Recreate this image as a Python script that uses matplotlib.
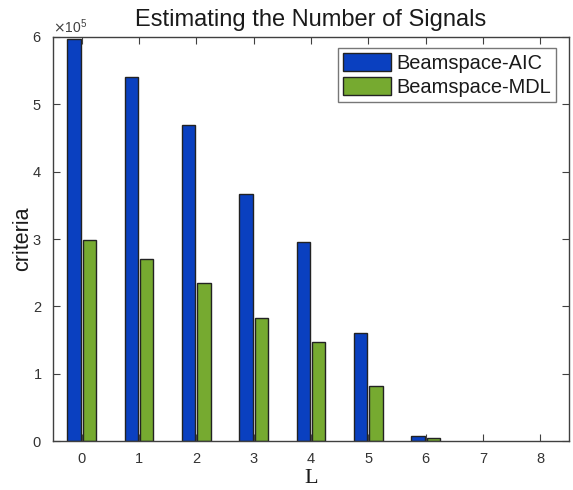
import matplotlib
matplotlib.use("Agg")
import matplotlib.pyplot as plt
import numpy as np
from matplotlib.ticker import ScalarFormatter

# Data
L_values = [0, 1, 2, 3, 4, 5, 6, 7, 8]
aic = [597000, 540000, 469000, 367000, 296000, 160000, 7000, 0, 0]
mdl = [299000, 270000, 234000, 183000, 147000, 81000, 4500, 0, 0]
series_names = ["Beamspace-AIC", "Beamspace-MDL"]
title = "Estimating the Number of Signals"

plt.rcParams['font.family'] = ['Liberation Sans', 'DejaVu Sans']

fig = plt.figure(figsize=(5.73, 4.9), dpi=100)
ax = fig.add_axes([53/573, 1-441/490, 516/573, 404/490])

x = np.array(L_values, dtype=float)
w = 0.23
off = 0.135
blue = '#0a40c0'
green = '#76aa30'
edge = '#222222'
lw_a = [1.0 if v > 0 else 0.0 for v in aic]
lw_m = [1.0 if v > 0 else 0.0 for v in mdl]
ax.bar(x - off, aic, width=w, color=blue, edgecolor=edge, linewidth=lw_a, label=series_names[0])
ax.bar(x + off, mdl, width=w, color=green, edgecolor=edge, linewidth=lw_m, label=series_names[1])

ax.set_xlim(-0.5, 8.5)
ax.set_ylim(0, 600000)
ax.set_xticks(L_values)
ax.set_yticks(np.arange(0, 600001, 100000))

fmt = ScalarFormatter(useMathText=True)
fmt.set_powerlimits((0, 0))
ax.yaxis.set_major_formatter(fmt)
ax.yaxis.get_offset_text().set_fontsize(10)
ax.yaxis.get_offset_text().set_color('#404040')

axc = '#404040'
for s in ax.spines.values():
    s.set_color(axc)
    s.set_linewidth(1.0)
ax.tick_params(direction='in', top=True, right=True, length=5, width=0.8,
               colors=axc, labelsize=10.5, pad=8)
for lab in ax.get_xticklabels() + ax.get_yticklabels():
    lab.set_color('#333333')

ax.set_title(title, fontsize=17, color='#1a1a1a', pad=8)
ax.set_ylabel("criteria", fontsize=15.5, color='#1a1a1a', labelpad=-1)
ax.set_xlabel("L", fontsize=16, family='Liberation Serif', color='#1a1a1a', labelpad=2)

leg = ax.legend(loc='upper right', bbox_to_anchor=((556-53)/516, (441-48)/404),
                fontsize=14.4, frameon=True, fancybox=False, borderaxespad=0,
                handlelength=2.4, handleheight=1.0, handletextpad=0.25,
                labelspacing=0.2, borderpad=0.25)
leg.get_frame().set_edgecolor('#555555')
leg.get_frame().set_linewidth(1.0)
for t in leg.get_texts():
    t.set_color('#1a1a1a')
for h in leg.legend_handles:
    h.set_linewidth(1.0)
    h.set_edgecolor(edge)

fig.savefig("out.png", dpi=100)
